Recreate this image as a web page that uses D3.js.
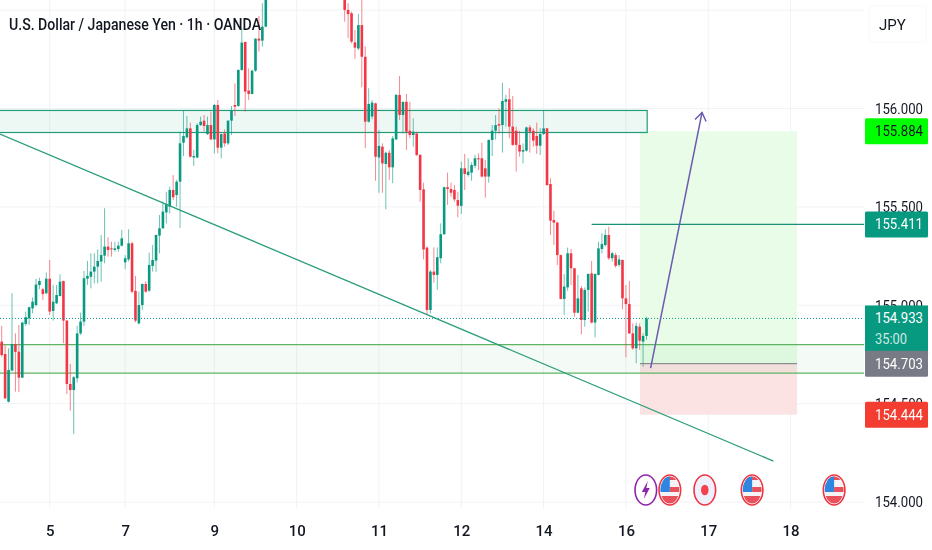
<!DOCTYPE html>
<html>
<head>
<meta charset="utf-8">
<script src="https://cdn.jsdelivr.net/npm/d3@7"></script>
<style>
html, body { margin: 0; padding: 0; background: #fff; overflow: hidden; }
text { font-family: Roboto, sans-serif; }
svg { filter: blur(0.35px); }
</style>
</head>
<body>
<div id="chart"></div>
<script>
// Hourly USD/JPY candles. Bars 78-99 run above the top of the frame.
const highs = [154.895,154.798,154.781,155.061,154.857,154.900,154.917,154.968,154.993,155.040,155.134,155.140,155.089,155.166,155.230,155.103,155.103,155.157,155.125,154.925,154.702,154.640,154.895,154.962,155.174,155.225,155.264,155.264,155.284,155.357,155.493,155.345,155.323,155.323,155.323,155.383,155.255,155.386,155.323,155.149,155.069,155.111,155.123,155.267,155.306,155.360,155.459,155.527,155.577,155.603,155.662,155.637,155.882,155.992,155.962,155.928,155.789,155.925,155.959,155.967,155.959,155.984,156.023,156.043,155.873,155.894,155.940,156.013,156.128,156.198,156.408,156.340,156.204,156.198,156.357,156.470,156.535,156.568,
  156.68,156.74,156.80,156.86,156.84,156.90,156.96,157.00,157.04,157.04,157.02,157.08,157.08,157.04,157.00,156.98,156.98,156.92,156.88,156.84,156.80,156.76,
  156.653,156.535,156.492,156.399,156.480,156.602,156.315,156.103,156.043,156.030,155.891,155.823,155.781,155.789,155.860,156.074,156.165,156.035,156.074,156.035,155.950,155.882,155.769,155.623,155.298,155.179,155.294,155.294,155.416,155.603,155.674,155.623,155.611,155.577,155.730,155.769,155.747,155.726,155.764,155.772,155.826,155.738,155.843,155.916,155.967,156.001,156.131,156.069,156.103,156.063,155.908,155.887,155.823,155.908,155.916,155.899,155.928,155.899,155.992,155.901,155.645,155.481,155.425,
  155.257,155.159,155.293,155.286,155.190,155.154,155.098,155.091,155.162,155.225,155.161,155.323,155.366,155.386,155.399,155.272,155.267,155.255,155.233,155.103,155.123,154.908,154.912,154.908,154.857,154.942];
const lows = [154.739,154.522,154.505,154.665,154.561,154.558,154.630,154.895,154.900,154.959,154.993,155.081,155.027,155.058,154.951,154.922,155.006,155.045,154.807,154.549,154.464,154.346,154.607,154.849,154.895,155.103,155.086,155.111,155.111,155.120,155.213,155.247,155.247,155.272,155.272,155.298,155.183,155.222,155.061,154.913,154.903,154.976,155.064,155.069,155.171,155.171,155.264,155.389,155.416,155.467,155.535,155.501,155.393,155.758,155.848,155.751,155.708,155.747,155.911,155.882,155.865,155.840,155.772,155.772,155.747,155.806,155.814,155.865,155.962,156.009,156.192,155.984,156.043,156.072,156.187,156.289,156.315,156.413,
  156.60,156.64,156.70,156.76,156.78,156.78,156.86,156.92,156.96,156.94,156.94,156.98,157.00,156.96,156.92,156.92,156.88,156.84,156.80,156.76,156.72,156.66,
  156.441,156.357,156.331,156.252,156.297,156.108,155.798,155.928,155.945,155.633,155.572,155.572,155.488,155.637,155.620,155.840,155.941,155.873,155.789,155.848,155.806,155.758,155.527,155.233,154.951,154.959,155.115,155.078,155.213,155.357,155.510,155.552,155.527,155.447,155.464,155.586,155.654,155.633,155.696,155.687,155.650,155.547,155.623,155.758,155.843,155.873,155.776,155.908,155.848,155.810,155.679,155.755,155.721,155.781,155.776,155.806,155.769,155.764,155.865,155.606,155.357,155.306,155.204,
  155.030,154.951,155.074,155.103,154.942,154.959,154.852,154.891,154.968,154.908,154.837,155.152,155.264,155.298,155.230,155.222,155.191,155.196,154.979,154.735,154.854,154.773,154.705,154.773,154.688,154.824];
const opens = [154.815,154.752,154.510,154.668,154.803,154.764,154.632,154.905,154.934,154.984,155.001,155.103,155.081,155.061,155.135,154.971,155.010,155.047,155.123,154.922,154.600,154.569,154.629,154.857,154.917,155.135,155.145,155.171,155.196,155.222,155.252,155.298,155.289,155.281,155.286,155.303,155.218,155.233,155.315,155.073,154.908,155.001,155.108,155.074,155.200,155.227,155.354,155.391,155.472,155.501,155.586,155.560,155.628,155.826,155.853,155.899,155.751,155.751,155.916,155.938,155.870,155.916,155.843,156.018,155.801,155.873,155.823,155.938,156.018,156.013,156.196,156.338,156.091,156.074,156.192,156.355,156.345,156.416,
  156.62,156.66,156.72,156.78,156.84,156.80,156.88,156.94,156.98,157.02,156.96,157.00,157.06,157.02,156.98,156.94,156.96,156.90,156.86,156.82,156.78,156.74,
  156.602,156.501,156.484,156.336,156.305,156.424,156.263,155.933,155.959,156.026,155.751,155.806,155.718,155.775,155.701,155.843,156.069,155.967,156.034,155.887,155.865,155.873,155.764,155.589,155.293,154.976,155.171,155.154,155.239,155.361,155.600,155.591,155.586,155.535,155.505,155.696,155.662,155.674,155.709,155.747,155.747,155.696,155.654,155.840,155.887,155.921,155.916,156.034,156.047,155.908,155.887,155.815,155.781,155.786,155.904,155.887,155.860,155.811,155.870,155.899,155.616,155.433,155.420,
  155.255,155.032,155.091,155.264,155.188,154.962,155.086,154.925,155.078,155.162,154.912,155.154,155.286,155.306,155.357,155.239,155.255,155.205,155.230,155.035,155.006,154.857,154.781,154.891,154.815,154.844];
const closes = [154.747,154.527,154.671,154.803,154.763,154.632,154.912,154.939,154.990,155.018,155.105,155.123,155.057,155.135,154.968,155.018,155.052,155.120,154.922,154.600,154.569,154.634,154.857,154.917,155.137,155.149,155.171,155.196,155.225,155.255,155.298,155.281,155.286,155.289,155.303,155.340,155.239,155.315,155.069,154.922,155.001,155.108,155.069,155.205,155.230,155.357,155.391,155.476,155.515,155.586,155.549,155.628,155.823,155.860,155.899,155.755,155.758,155.916,155.933,155.911,155.916,155.843,156.018,155.801,155.870,155.823,155.938,155.989,156.009,156.196,156.335,156.086,156.074,156.192,156.355,156.345,156.416,156.552,
  156.66,156.72,156.78,156.84,156.80,156.88,156.94,156.98,157.02,156.96,157.00,157.06,157.02,156.98,156.94,156.96,156.90,156.86,156.82,156.78,156.74,156.68,
  156.501,156.480,156.340,156.309,156.424,156.263,155.933,156.023,156.030,155.755,155.810,155.721,155.775,155.701,155.848,156.069,155.967,156.034,155.882,155.865,155.882,155.764,155.586,155.284,154.976,155.171,155.154,155.244,155.361,155.600,155.591,155.572,155.538,155.506,155.696,155.667,155.679,155.713,155.747,155.742,155.654,155.654,155.840,155.887,155.916,155.913,156.038,156.047,155.908,155.815,155.815,155.781,155.789,155.904,155.882,155.837,155.811,155.870,155.899,155.611,155.430,155.420,155.255,
  155.032,155.095,155.264,155.188,154.962,155.035,154.925,155.078,155.159,154.912,155.159,155.289,155.311,155.357,155.239,155.264,155.200,155.233,155.035,155.006,154.857,154.781,154.895,154.820,154.844,154.933];

// Axis labels
const dayBars = [14, 36, 62, 86, 110, 134, 158, 182, 206, 230];
const dayLabels = ["5", "7", "9", "10", "11", "12", "14", "16", "17", "18"];
const priceTicks = [154, 154.5, 155, 155.5, 156];
const gridPrices = [154, 154.5, 155, 155.5, 156, 156.5];

// Drawings, in bars and prices
const topZone = [155.99, 155.878];
const topZoneEndBar = 188.2;
const bottomZone = [154.80, 154.655];
const trendBars = [-0.5, 225];
const trendPrices = [155.870, 154.208];
const levelStartBar = 172;
const lastPrice = 154.933;
const targetLevel = 155.411;
const takeProfit = 155.884;
const entry = 154.703;
const stopLoss = 154.444;
const positionBars = [186.1, 231.9];
const arrowBars = [189.2, 204.2];
const arrowPrices = [154.68, 155.98];

// Calendar markers under the candles
const eventBars = [187.8, 194.8, 205, 218.8, 242.7];
const eventKinds = ["bolt", "flag", "dot", "flag", "flag"];

const width = 932;
const height = 550;
const plotRight = 864;
const plotBottom = 508;
const priceWidth = 48; // the labels are squeezed sideways in the picture

const x = d3.scaleLinear().domain([0, 188]).range([1.7, 646.5]);
const y = d3.scaleLinear().domain([154, 156]).range([502, 108.5]);

const svg = d3.select("#chart").append("svg")
    .attr("width", width)
    .attr("height", height)
    .style("display", "block");

const clip = svg.append("defs").append("clipPath").attr("id", "plot");
clip.append("rect").attr("width", plotRight).attr("height", plotBottom);

// Grid
svg.append("g").selectAll("line").data(gridPrices).join("line")
    .attr("x1", 0).attr("x2", plotRight)
    .attr("y1", d => y(d)).attr("y2", d => y(d))
    .attr("stroke", "#f1f2f4");
svg.append("g").selectAll("line").data(dayBars).join("line")
    .attr("x1", d => x(d)).attr("x2", d => x(d))
    .attr("y1", 0).attr("y2", plotBottom)
    .attr("stroke", "#f1f2f4");

const plot = svg.append("g").attr("clip-path", "url(#plot)");

// Long position box
plot.append("rect")
    .attr("x", x(positionBars[0])).attr("width", x(positionBars[1]) - x(positionBars[0]))
    .attr("y", y(takeProfit)).attr("height", y(entry) - y(takeProfit))
    .attr("fill", "#e8fce8");
plot.append("rect")
    .attr("x", x(positionBars[0])).attr("width", x(positionBars[1]) - x(positionBars[0]))
    .attr("y", y(entry)).attr("height", y(stopLoss) - y(entry))
    .attr("fill", "#fbe3e3");

// Zones
plot.append("rect")
    .attr("x", x(-1)).attr("width", x(topZoneEndBar) - x(-1))
    .attr("y", y(topZone[0])).attr("height", y(topZone[1]) - y(topZone[0]))
    .attr("fill", "#1f9d78").attr("fill-opacity", 0.08)
    .attr("stroke", "#1f9d78").attr("stroke-width", 1.2);
plot.append("rect")
    .attr("x", 0).attr("width", plotRight)
    .attr("y", y(bottomZone[0])).attr("height", y(bottomZone[1]) - y(bottomZone[0]))
    .attr("fill", "#4caf50").attr("fill-opacity", 0.06);
plot.selectAll(".zone-edge").data(bottomZone).join("line")
    .attr("class", "zone-edge")
    .attr("x1", 0).attr("x2", plotRight)
    .attr("y1", d => y(d)).attr("y2", d => y(d))
    .attr("stroke", "#5fb463").attr("stroke-width", 1.2);

// Candles
const bars = d3.range(highs.length);
plot.append("g").selectAll("line").data(bars).join("line")
    .attr("x1", i => x(i)).attr("x2", i => x(i))
    .attr("y1", i => y(highs[i])).attr("y2", i => y(lows[i]))
    .attr("stroke", i => closes[i] >= opens[i] ? "#089981" : "#f23645")
    .attr("stroke-opacity", 0.6);
plot.append("g").selectAll("rect").data(bars).join("rect")
    .attr("x", i => x(i) - 1.3)
    .attr("width", 2.6)
    .attr("y", i => y(Math.max(opens[i], closes[i])))
    .attr("height", i => Math.max(1, Math.abs(y(opens[i]) - y(closes[i]))))
    .attr("fill", i => closes[i] >= opens[i] ? "#089981" : "#f23645");

// Trend line, levels and entry
plot.append("line")
    .attr("x1", x(trendBars[0])).attr("y1", y(trendPrices[0]))
    .attr("x2", x(trendBars[1])).attr("y2", y(trendPrices[1]))
    .attr("stroke", "#2a9d7c").attr("stroke-width", 1.3);
plot.append("line")
    .attr("x1", 0).attr("x2", plotRight)
    .attr("y1", y(lastPrice)).attr("y2", y(lastPrice))
    .attr("stroke", "#089981").attr("stroke-dasharray", "1,2");
plot.append("line")
    .attr("x1", x(levelStartBar)).attr("x2", plotRight)
    .attr("y1", y(targetLevel)).attr("y2", y(targetLevel))
    .attr("stroke", "#1b8f78").attr("stroke-width", 1.3);
plot.append("line")
    .attr("x1", x(positionBars[0])).attr("x2", x(positionBars[1]))
    .attr("y1", y(entry)).attr("y2", y(entry))
    .attr("stroke", "#77797f");

// Arrow
const ax = x(arrowBars[1]), ay = y(arrowPrices[1]);
plot.append("line")
    .attr("x1", x(arrowBars[0])).attr("y1", y(arrowPrices[0]))
    .attr("x2", ax).attr("y2", ay)
    .attr("stroke", "#6a5bb0").attr("stroke-width", 1.5);
plot.append("path")
    .attr("d", `M${ax - 7},${ay + 7}L${ax},${ay}L${ax + 4},${ay + 9}`)
    .attr("fill", "none")
    .attr("stroke", "#6a5bb0").attr("stroke-width", 1.5);

// Calendar markers
const eventY = 490;
const markerClip = svg.select("defs").append("clipPath").attr("id", "marker");
markerClip.append("ellipse").attr("rx", 9.5).attr("ry", 13.5);

const events = svg.append("g").selectAll("g").data(eventBars).join("g")
    .attr("transform", d => `translate(${x(d)},${eventY})`);
events.append("ellipse")
    .attr("rx", 10.8).attr("ry", 15)
    .attr("fill", (d, i) => eventKinds[i] === "dot" ? "#eef1fb" : "#fff")
    .attr("stroke", (d, i) => eventKinds[i] === "bolt" ? "#8e24aa" : "#ef3340")
    .attr("stroke-width", 1.6);

events.filter((d, i) => eventKinds[i] === "bolt").append("path")
    .attr("d", "M2,-9L-4,2L-0.5,2L-2,9L4,-2L0.5,-2Z")
    .attr("fill", "#8e24aa");
events.filter((d, i) => eventKinds[i] === "dot").append("ellipse")
    .attr("rx", 3.8).attr("ry", 5.2)
    .attr("fill", "#f2424e");

const flags = events.filter((d, i) => eventKinds[i] === "flag").append("g")
    .attr("clip-path", "url(#marker)");
flags.append("rect").attr("x", -10).attr("y", -14).attr("width", 20).attr("height", 28).attr("fill", "#f4f4f6");
flags.append("rect").attr("x", -10).attr("y", -14).attr("width", 20).attr("height", 4).attr("fill", "#e8505b");
flags.append("rect").attr("x", 0).attr("y", -3).attr("width", 10).attr("height", 5).attr("fill", "#e8505b");
flags.append("rect").attr("x", -10).attr("y", 6).attr("width", 20).attr("height", 8).attr("fill", "#e8505b");
flags.append("rect").attr("x", -10).attr("y", -14).attr("width", 10).attr("height", 16).attr("fill", "#2f86e0");

// Axes
const priceAxis = d3.axisRight(y)
    .tickValues(priceTicks)
    .tickFormat(d3.format(".3f"))
    .tickSize(0)
    .tickPadding(0);
const gPrice = svg.append("g")
    .attr("transform", "translate(875,0)")
    .call(priceAxis);
gPrice.select(".domain").remove();
gPrice.selectAll("text")
    .style("font-family", "Roboto, sans-serif")
    .style("font-size", "15px")
    .attr("textLength", priceWidth)
    .attr("lengthAdjust", "spacingAndGlyphs")
    .attr("fill", "#131722");

const timeAxis = d3.axisBottom(x)
    .tickValues(dayBars)
    .tickFormat((d, i) => dayLabels[i])
    .tickSize(0)
    .tickPadding(0);
const gTime = svg.append("g")
    .attr("transform", "translate(0,525)")
    .call(timeAxis);
gTime.select(".domain").remove();
gTime.selectAll("text")
    .style("font-family", "Roboto, sans-serif")
    .style("font-size", "15px")
    .style("font-weight", 500)
    .attr("fill", "#131722");

// Price tags on the axis
const tagPrices = [takeProfit, targetLevel, entry, stopLoss];
const tagFills = ["#00ff00", "#089981", "#787b86", "#f23d30"];
const tagText = ["#131722", "#fff", "#fff", "#fff"];
const tags = svg.append("g").selectAll("g").data(tagPrices).join("g")
    .attr("transform", d => `translate(865,${y(d) - 13})`);
tags.append("rect")
    .attr("width", 63).attr("height", 26).attr("rx", 1.5)
    .attr("fill", (d, i) => tagFills[i]);
tags.append("text")
    .attr("x", 10).attr("y", 18)
    .attr("font-size", 15)
    .attr("textLength", priceWidth)
    .attr("lengthAdjust", "spacingAndGlyphs")
    .attr("fill", (d, i) => tagText[i])
    .text(d => d3.format(".3f")(d));

// Last price tag with the countdown, under the gray entry tag
const lastTag = svg.append("g").attr("transform", `translate(865,${y(lastPrice) - 13})`);
lastTag.append("rect").attr("width", 63).attr("height", 48).attr("fill", "#089981");
lastTag.append("text").attr("x", 10).attr("y", 18).attr("font-size", 15).attr("fill", "#fff")
    .attr("textLength", priceWidth).attr("lengthAdjust", "spacingAndGlyphs")
    .text(d3.format(".3f")(lastPrice));
lastTag.append("text").attr("x", 10).attr("y", 39).attr("font-size", 15).attr("fill", "#cdeae4")
    .attr("textLength", 32).attr("lengthAdjust", "spacingAndGlyphs")
    .text("35:00");
svg.node().appendChild(tags.filter(d => d === entry).node());

// Currency button
svg.append("rect")
    .attr("x", 869).attr("y", 6).attr("width", 57).attr("height", 36).attr("rx", 3)
    .attr("fill", "#fff").attr("stroke", "#f8f8fa");
svg.append("text")
    .attr("x", 879).attr("y", 30)
    .attr("font-size", 15).attr("fill", "#131722")
    .text("JPY");

// Title
svg.append("text")
    .attr("x", 9).attr("y", 30)
    .attr("font-size", 16).attr("font-weight", 500).attr("fill", "#131722")
    .attr("textLength", 252)
    .attr("lengthAdjust", "spacingAndGlyphs")
    .text("U.S. Dollar / Japanese Yen · 1h · OANDA");
</script>
</body>
</html>
